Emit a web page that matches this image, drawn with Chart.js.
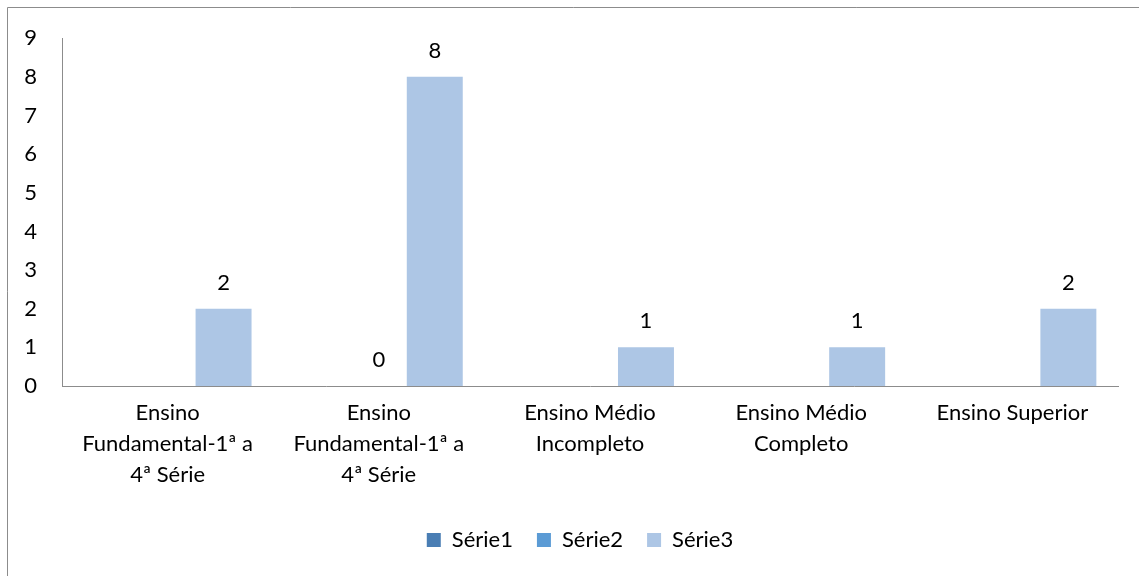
<!DOCTYPE html>
<html lang="pt">

<head>
    <meta charset="UTF-8">
    <title>Escolaridade</title>
    <script src="https://cdn.jsdelivr.net/npm/chart.js"></script>
    <style>
        body { margin: 0; background: #ffffff; overflow: hidden; }
        canvas { display: block; }
    </style>
</head>

<body>
    <canvas id="barChart" width="1139" height="576"></canvas>

    <script>
        const categories = [
            ['Ensino', 'Fundamental-1ª a', '4ª Série'],
            ['Ensino', 'Fundamental-1ª a', '4ª Série'],
            ['Ensino Médio', 'Incompleto'],
            ['Ensino Médio', 'Completo'],
            ['Ensino Superior']
        ];
        const serie1 = [null, null, null, null, null];
        const serie2 = [null, 0, null, null, null];
        const serie3 = [2, 8, 1, 1, 2];
        const yTicks = [0, 1, 2, 3, 4, 5, 6, 7, 8, 9];

        const fontFamily = "Lato, 'Open Sans', sans-serif";
        const fontSize = 22;

        // white background + the chart frame (left and top edge, like the cropped Excel chart)
        const frame = {
            id: 'frame',
            beforeDraw(chart) {
                const c = chart.ctx;
                c.save();
                c.fillStyle = '#ffffff';
                c.fillRect(0, 0, chart.width, chart.height);
                c.strokeStyle = '#8c8c8c';
                c.lineWidth = 1;
                c.beginPath();
                c.moveTo(7.5, chart.height);
                c.lineTo(7.5, 7.5);
                c.lineTo(chart.width, 7.5);
                c.stroke();
                c.restore();
            },
            // move the legend a bit to the right, as in the original
            afterLayout(chart) {
                if (chart.legend) {
                    chart.legend.left += 21;
                    chart.legend.right += 21;
                }
            }
        };

        // value labels above the bars (like Excel data labels)
        const valueLabels = {
            id: 'valueLabels',
            afterDatasetsDraw(chart) {
                const c = chart.ctx;
                c.save();
                c.font = fontSize + 'px ' + fontFamily;
                c.fillStyle = '#000000';
                c.textAlign = 'center';
                c.textBaseline = 'middle';
                chart.data.datasets.forEach((ds, i) => {
                    const meta = chart.getDatasetMeta(i);
                    meta.data.forEach((bar, j) => {
                        const v = ds.data[j];
                        if (v === null || v === undefined) return;
                        c.fillText(String(v), bar.x, bar.y - 26);
                    });
                });
                c.restore();
            }
        };

        const ctx = document.getElementById('barChart').getContext('2d');

        new Chart(ctx, {
            type: 'bar',
            data: {
                labels: categories,
                datasets: [
                    { label: 'Série1', data: serie1, backgroundColor: '#4a7eb4' },
                    { label: 'Série2', data: serie2, backgroundColor: '#5b9bd5' },
                    { label: 'Série3', data: serie3, backgroundColor: '#adc6e5' }
                ]
            },
            options: {
                responsive: false,
                animation: false,
                layout: { padding: { top: 34, right: 21, bottom: 15, left: 0 } },
                datasets: { bar: { categoryPercentage: 0.795, barPercentage: 1.0 } },
                plugins: {
                    legend: {
                        display: true,
                        position: 'bottom',
                        labels: {
                            boxWidth: 14,
                            boxHeight: 14,
                            padding: 24,
                            color: '#000000',
                            font: { size: fontSize, family: fontFamily }
                        }
                    },
                    tooltip: { enabled: false }
                },
                scales: {
                    x: {
                        grid: { display: false, drawTicks: false },
                        border: { display: true, color: '#8c8c8c', width: 1 },
                        ticks: {
                            maxRotation: 0,
                            autoSkip: false,
                            padding: 12,
                            color: '#000000',
                            font: { size: fontSize, family: fontFamily, lineHeight: 1.4 }
                        },
                        afterFit: (scale) => { scale.height = 119; }
                    },
                    y: {
                        min: 0,
                        max: 9,
                        grid: { display: false, drawTicks: false },
                        border: { display: true, color: '#8c8c8c', width: 1 },
                        afterBuildTicks: (scale) => { scale.ticks = yTicks.map(v => ({ value: v })); },
                        ticks: {
                            padding: 25,
                            color: '#000000',
                            font: { size: fontSize, family: fontFamily }
                        },
                        afterFit: (scale) => { scale.width = 62; }
                    }
                }
            },
            plugins: [frame, valueLabels]
        });
    </script>
</body>

</html>
